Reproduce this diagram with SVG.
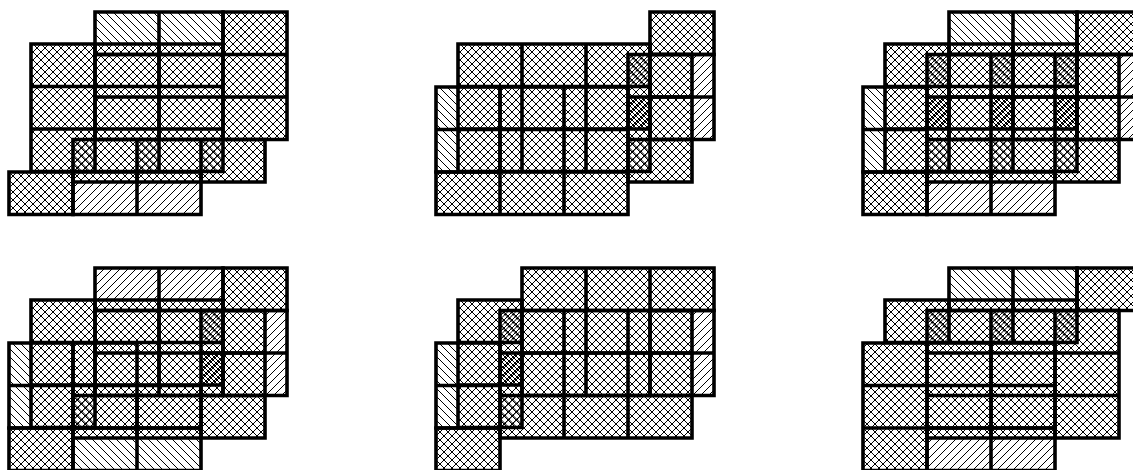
<svg xmlns="http://www.w3.org/2000/svg" width="1133" height="470" viewBox="0 0 1133 470">
<defs>
<style>.c{stroke:#000;stroke-width:3.6;} .h{stroke:#000;stroke-width:1.3;fill:none;shape-rendering:crispEdges;} .t{stroke:#000;stroke-width:1;fill:none;shape-rendering:crispEdges;}</style>
<pattern id="hb" patternUnits="userSpaceOnUse" width="8" height="8" x="1" y="4"><path class="h" d="M-1 -1L9 9M-9 -1L1 9M7 -1L17 9"/></pattern>
<pattern id="hf" patternUnits="userSpaceOnUse" width="8" height="8" x="1" y="4"><path class="h" d="M-1 9L9 -1M-1 1L1 -1M7 9L9 7"/></pattern>
<pattern id="hx" patternUnits="userSpaceOnUse" width="8" height="8" x="1" y="4"><path class="h" d="M-1 -1L9 9M-1 9L9 -1"/></pattern>
<pattern id="hd" patternUnits="userSpaceOnUse" width="8" height="8" x="5" y="4"><path class="t" d="M-1 -1L9 9M-1 9L9 -1"/></pattern>
<rect id="d" width="22" height="32" fill="url(#hd)"/>
</defs>
<rect width="1133" height="470" fill="#fff"/>

<g id="panel-1" class="c">
<path fill="url(#hb)" d="M95 12h64v42.5h-64zM159 12h64v42.5h-64z"/>
<path fill="url(#hx)" d="M223 12h64v42.5h-64zM95 54.5h64v42.5h-64zM159 54.5h64v42.5h-64zM223 54.5h64v42.5h-64zM95 97h64v42.5h-64zM159 97h64v42.5h-64zM223 97h64v42.5h-64z"/>
<path fill="url(#hx)" d="M31 44h64v42.5h-64zM95 44h64v42.5h-64zM159 44h64v42.5h-64zM31 86.5h64v42.5h-64zM95 86.5h64v42.5h-64zM159 86.5h64v42.5h-64zM31 129h64v42.5h-64zM95 129h64v42.5h-64zM159 129h64v42.5h-64z"/>
<path fill="url(#hx)" d="M73 139.500h64v42.5h-64zM137 139.500h64v42.5h-64zM201 139.500h64v42.5h-64z"/>
<path fill="url(#hx)" d="M9 172h64v42.5h-64z"/>
<path fill="url(#hf)" d="M73 172h64v42.5h-64zM137 172h64v42.5h-64z"/>
<g stroke="none"><use href="#d" x="73" y="139.500"/><use href="#d" x="137" y="139.500"/><use href="#d" x="201" y="139.500"/></g>
</g>

<g id="panel-2" class="c" transform="translate(427,0)">
<path fill="url(#hx)" d="M223 12h64v42.5h-64z"/>
<path fill="url(#hf)" d="M223 54.5h64v42.5h-64zM223 97h64v42.5h-64z"/>
<path fill="url(#hx)" d="M31 44h64v42.5h-64zM95 44h64v42.5h-64zM159 44h64v42.5h-64zM31 86.5h64v42.5h-64zM95 86.5h64v42.5h-64zM159 86.5h64v42.5h-64zM31 129h64v42.5h-64zM95 129h64v42.5h-64zM159 129h64v42.5h-64z"/>
<path fill="url(#hx)" d="M201 54.5h64v42.5h-64zM201 97h64v42.5h-64zM201 139.500h64v42.5h-64z"/>
<path fill="url(#hb)" d="M9 87h64v42.5h-64zM9 129.500h64v42.5h-64z"/>
<path fill="url(#hx)" d="M73 87h64v42.5h-64zM137 87h64v42.5h-64zM73 129.500h64v42.5h-64zM137 129.500h64v42.5h-64zM9 172h64v42.5h-64zM73 172h64v42.5h-64zM137 172h64v42.5h-64z"/>
<g stroke="none"><use href="#d" x="201" y="54.500"/><use href="#d" x="201" y="97"/><use href="#d" x="201" y="139.500"/></g>
</g>

<g id="panel-3" class="c" transform="translate(854,0)">
<path fill="url(#hb)" d="M95 12h64v42.5h-64zM159 12h64v42.5h-64z"/>
<path fill="url(#hx)" d="M223 12h64v42.5h-64zM95 54.5h64v42.5h-64zM159 54.5h64v42.5h-64zM95 97h64v42.5h-64zM159 97h64v42.5h-64z"/>
<path fill="url(#hf)" d="M223 54.5h64v42.5h-64zM223 97h64v42.5h-64z"/>
<path fill="url(#hx)" d="M31 44h64v42.5h-64zM95 44h64v42.5h-64zM159 44h64v42.5h-64zM31 86.5h64v42.5h-64zM95 86.5h64v42.5h-64zM159 86.5h64v42.5h-64zM31 129h64v42.5h-64zM95 129h64v42.5h-64zM159 129h64v42.5h-64z"/>
<path fill="url(#hx)" d="M73 54.5h64v42.5h-64zM137 54.5h64v42.5h-64zM201 54.5h64v42.5h-64zM73 97h64v42.5h-64zM137 97h64v42.5h-64zM201 97h64v42.5h-64zM73 139.500h64v42.5h-64zM137 139.500h64v42.5h-64zM201 139.500h64v42.5h-64z"/>
<path fill="url(#hb)" d="M9 87h64v42.5h-64zM9 129.500h64v42.5h-64z"/>
<path fill="url(#hx)" d="M9 172h64v42.5h-64z"/>
<path fill="url(#hf)" d="M73 172h64v42.5h-64zM137 172h64v42.5h-64z"/>
<g stroke="none"><use href="#d" x="73" y="54.500"/><use href="#d" x="137" y="54.500"/><use href="#d" x="201" y="54.500"/><use href="#d" x="73" y="97"/><use href="#d" x="137" y="97"/><use href="#d" x="201" y="97"/><use href="#d" x="73" y="139.500"/><use href="#d" x="137" y="139.500"/><use href="#d" x="201" y="139.500"/></g>
</g>

<g id="panel-4" class="c" transform="translate(0,256)">
<path fill="url(#hf)" d="M95 12h64v42.5h-64zM159 12h64v42.5h-64zM223 54.5h64v42.5h-64zM223 97h64v42.5h-64z"/>
<path fill="url(#hx)" d="M223 12h64v42.5h-64zM95 54.5h64v42.5h-64zM159 54.5h64v42.5h-64zM95 97h64v42.5h-64zM159 97h64v42.5h-64z"/>
<path fill="url(#hx)" d="M31 44h64v42.5h-64zM95 44h64v42.5h-64zM159 44h64v42.5h-64zM31 86.5h64v42.5h-64zM95 86.5h64v42.5h-64zM159 86.5h64v42.5h-64zM31 129h64v42.5h-64z"/>
<path fill="url(#hx)" d="M201 54.5h64v42.5h-64zM201 97h64v42.5h-64zM73 139.500h64v42.5h-64zM137 139.500h64v42.5h-64zM201 139.500h64v42.5h-64z"/>
<path fill="url(#hb)" d="M9 87h64v42.5h-64zM9 129.500h64v42.5h-64zM73 172h64v42.5h-64zM137 172h64v42.5h-64z"/>
<path fill="url(#hx)" d="M73 87h64v42.5h-64zM73 129.500h64v42.5h-64zM137 129.500h64v42.5h-64zM9 172h64v42.5h-64z"/>
<g stroke="none"><use href="#d" x="201" y="54.500"/><use href="#d" x="201" y="97"/><use href="#d" x="73" y="139.500"/></g>
</g>

<g id="panel-5" class="c" transform="translate(427,256)">
<path fill="url(#hx)" d="M95 12h64v42.5h-64zM159 12h64v42.5h-64zM223 12h64v42.5h-64zM95 54.5h64v42.5h-64zM159 54.5h64v42.5h-64zM95 97h64v42.5h-64zM159 97h64v42.5h-64z"/>
<path fill="url(#hf)" d="M223 54.5h64v42.5h-64zM223 97h64v42.5h-64z"/>
<path fill="url(#hx)" d="M31 44h64v42.5h-64zM31 86.5h64v42.5h-64zM31 129h64v42.5h-64z"/>
<path fill="url(#hx)" d="M73 54.5h64v42.5h-64zM137 54.5h64v42.5h-64zM201 54.5h64v42.5h-64zM73 97h64v42.5h-64zM137 97h64v42.5h-64zM201 97h64v42.5h-64zM73 139.500h64v42.5h-64zM137 139.500h64v42.5h-64zM201 139.500h64v42.5h-64z"/>
<path fill="url(#hb)" d="M9 87h64v42.5h-64zM9 129.500h64v42.5h-64z"/>
<path fill="url(#hx)" d="M9 172h64v42.5h-64z"/>
<g stroke="none"><use href="#d" x="73" y="54.500"/><use href="#d" x="73" y="97"/><use href="#d" x="73" y="139.500"/></g>
</g>

<g id="panel-6" class="c" transform="translate(854,256)">
<path fill="url(#hb)" d="M95 12h64v42.5h-64zM159 12h64v42.5h-64z"/>
<path fill="url(#hx)" d="M223 12h64v42.5h-64z"/>
<path fill="url(#hx)" d="M31 44h64v42.5h-64zM95 44h64v42.5h-64zM159 44h64v42.5h-64z"/>
<path fill="url(#hx)" d="M73 54.5h64v42.5h-64zM137 54.5h64v42.5h-64zM201 54.5h64v42.5h-64zM73 97h64v42.5h-64zM137 97h64v42.5h-64zM201 97h64v42.5h-64zM73 139.500h64v42.5h-64zM137 139.500h64v42.5h-64zM201 139.500h64v42.5h-64z"/>
<path fill="url(#hx)" d="M9 87h64v42.5h-64zM73 87h64v42.5h-64zM137 87h64v42.5h-64zM9 129.500h64v42.5h-64zM73 129.500h64v42.5h-64zM137 129.500h64v42.5h-64zM9 172h64v42.5h-64z"/>
<path fill="url(#hf)" d="M73 172h64v42.5h-64zM137 172h64v42.5h-64z"/>
<g stroke="none"><use href="#d" x="73" y="54.500"/><use href="#d" x="137" y="54.500"/><use href="#d" x="201" y="54.500"/></g>
</g>
</svg>
